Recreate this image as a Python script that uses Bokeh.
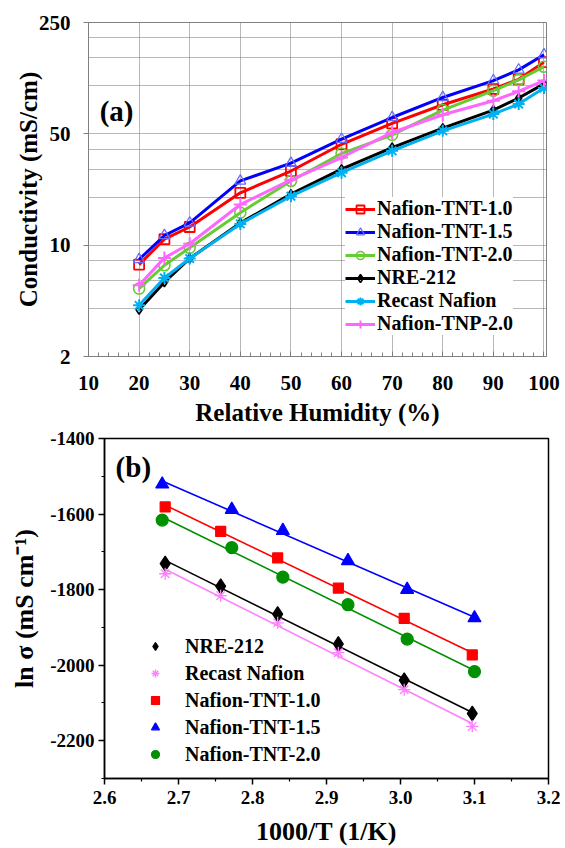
from bokeh.plotting import figure
from bokeh.models import FixedTicker, Label, Legend, LegendItem, NumeralTickFormatter
from bokeh.embed import file_html
from bokeh.resources import INLINE
import numpy as np

FONT = "Liberation Serif"

# ---------------- Panel (a) data ----------------
rh = [20, 25, 30, 40, 50, 60, 70, 80, 90, 95, 100]
tnt10 = [7.55, 10.9, 13.0, 21.3, 29.2, 43.0, 58.1, 76.1, 95.6, 110, 141]
tnt15 = [8.13, 11.5, 13.8, 25.3, 32.7, 46.3, 63.3, 84.6, 108, 126, 157]
tnt20 = [5.34, 7.48, 9.62, 16.0, 25.3, 37.6, 49.3, 70.5, 93.3, 109, 132]
nre = [3.93, 5.85, 8.25, 13.8, 20.9, 30.0, 41.0, 54.3, 70.5, 83.9, 103]
recast = [4.19, 6.22, 8.25, 13.6, 20.3, 28.5, 39.1, 52.2, 66.5, 76.9, 97]
tnp20 = [5.6, 8.32, 10.2, 18.0, 25.7, 35.5, 51.0, 65.9, 80.7, 92.4, 108]
rh_ticks = [10, 20, 30, 40, 50, 60, 70, 80, 90, 100]
rh_minor = [12, 14, 16, 18, 22, 24, 26, 28, 32, 34, 36, 38, 42, 44, 46, 48,
            52, 54, 56, 58, 62, 64, 66, 68, 72, 74, 76, 78, 82, 84, 86, 88,
            92, 94, 96, 98]
sigma_ticks = [2, 10, 50, 250]
sigma_minor = [4, 6, 8, 20, 30, 40, 100, 150, 200]

# ---------------- Panel (b) data ----------------
invT_1 = [2.682, 2.757, 2.834, 2.916, 3.005, 3.097]   # NRE-212, Recast, TNT-1.0
invT_2 = [2.678, 2.772, 2.841, 2.929, 3.009, 3.100]   # TNT-1.5, TNT-2.0
nre_b = [-1731, -1791, -1865, -1944, -2040, -2128]
recast_b = [-1758, -1816, -1888, -1967, -2065, -2162]
tnt10_b = [-1581, -1646, -1716, -1796, -1876, -1973]
tnt15_b = [-1521, -1588, -1644, -1724, -1800, -1875]
tnt20_b = [-1616, -1689, -1767, -1840, -1931, -2017]
invT_ticks = [2.6, 2.7, 2.8, 2.9, 3.0, 3.1, 3.2]
invT_minor = [2.65, 2.75, 2.85, 2.95, 3.05, 3.15]
ln_ticks = [-2200, -2000, -1800, -1600, -1400]
ln_minor = [-2300, -2100, -1900, -1700, -1500]

# ================= Figure (a) =================
p1 = figure(width=565, height=428, x_range=(10, 100.5), y_range=(2, 250),
            y_axis_type="log", output_backend="svg", toolbar_location=None,
            min_border_left=88, min_border_right=19, min_border_top=22,
            min_border_bottom=71)
p1.outline_line_color = "#808080"
p1.outline_line_width = 1

series_a = [
    ("Nafion-TNT-1.0", tnt10, "#FF0000", "square", 10, "#FF0000", 1.8),
    ("Nafion-TNT-1.5", tnt15, "#0000FF", "triangle", 11, "#6A6AFF", 1.2),
    ("Nafion-TNT-2.0", tnt20, "#66CC33", "circle", 11, "#66CC33", 1.6),
    ("NRE-212", nre, "#000000", "diamond", 9, "#000000", 1.6),
    ("Recast Nafion", recast, "#00B0F0", "asterisk", 12, "#00B0F0", 2.0),
    ("Nafion-TNP-2.0", tnp20, "#FF66FF", "cross", 13, "#FF66FF", 2.0),
]
items_a = []
for name, ys, col, mk, sz, mcol, mlw in series_a:
    ln = p1.line(rh, ys, line_color=col, line_width=3)
    sc = p1.scatter(rh, ys, marker=mk, size=sz, line_color=mcol,
                    fill_color=None, line_width=mlw)
    items_a.append(LegendItem(label=name, renderers=[ln, sc]))

leg_a = Legend(items=items_a, location=(257, 21), padding=3, margin=0,
               spacing=-2, glyph_width=30, glyph_height=20, label_height=20,
               label_standoff=2, background_fill_color="white",
               background_fill_alpha=1.0, border_line_color=None,
               label_text_font=FONT, label_text_font_style="bold",
               label_text_font_size="20px", label_text_color="black")
p1.add_layout(leg_a)

p1.xaxis.ticker = FixedTicker(ticks=rh_ticks, minor_ticks=rh_minor)
p1.yaxis.ticker = FixedTicker(ticks=sigma_ticks, minor_ticks=sigma_minor)
p1.ygrid.ticker = FixedTicker(ticks=sigma_ticks, minor_ticks=sigma_minor)
p1.xgrid.ticker = FixedTicker(ticks=rh_ticks)
p1.yaxis.formatter = NumeralTickFormatter(format="0")
p1.xaxis.formatter = NumeralTickFormatter(format="0")

for g in (p1.xgrid, p1.ygrid):
    g.grid_line_color = "#707070"
    g.grid_line_dash = "1 1"
    g.grid_line_width = 1
p1.ygrid.minor_grid_line_color = "#707070"
p1.ygrid.minor_grid_line_dash = "1 1"
p1.ygrid.minor_grid_line_width = 1

for ax in (p1.xaxis, p1.yaxis):
    ax.axis_line_color = "#808080"
    ax.major_tick_line_color = "#808080"
    ax.minor_tick_line_color = "#808080"
    ax.major_label_text_font = FONT
    ax.major_label_text_font_style = "bold"
    ax.major_label_text_font_size = "21px"
    ax.major_label_text_color = "black"
    ax.axis_label_text_font = FONT
    ax.axis_label_text_font_style = "bold"
    ax.axis_label_text_font_size = "25px"
    ax.axis_label_text_color = "black"
p1.xaxis.major_tick_in = 5
p1.xaxis.major_tick_out = 0
p1.xaxis.minor_tick_in = 4
p1.xaxis.minor_tick_out = 0
p1.xaxis.major_label_standoff = 19
p1.xaxis.axis_label_standoff = 6
p1.yaxis.major_tick_in = 0
p1.yaxis.major_tick_out = 5
p1.yaxis.minor_tick_line_color = None
p1.yaxis.major_label_standoff = 13
p1.yaxis.axis_label_standoff = -6
p1.xaxis.axis_label = "Relative Humidity (%)"
p1.yaxis.axis_label = "Conductivity (mS/cm)"

p1.add_layout(Label(x=12.2, y=70, text="(a)", text_font=FONT,
                    text_font_style="bold", text_font_size="29px",
                    text_baseline="middle", text_align="left",
                    text_color="black"))

# ================= Figure (b) =================
p2 = figure(width=565, height=420, x_range=(2.6, 3.2), y_range=(-2300, -1400),
            output_backend="svg", toolbar_location=None,
            min_border_left=104, min_border_right=17, min_border_top=10,
            min_border_bottom=69)
p2.outline_line_color = "black"
p2.outline_line_width = 1.5
p2.xgrid.grid_line_color = None
p2.ygrid.grid_line_color = None

series_b = [
    ("NRE-212", invT_1, nre_b, "#000000", "diamond", 15, "#000000"),
    ("Recast Nafion", invT_1, recast_b, "#FF80FF", "asterisk", 12, None),
    ("Nafion-TNT-1.0", invT_1, tnt10_b, "#FF0000", "square", 10, "#FF0000"),
    ("Nafion-TNT-1.5", invT_2, tnt15_b, "#0000FF", "triangle", 13, "#0000FF"),
    ("Nafion-TNT-2.0", invT_2, tnt20_b, "#009000", "circle", 12, "#009000"),
]
items_b = []
for name, xs, ys, col, mk, sz, fill in series_b:
    coef = np.polyfit(xs, ys, 1)
    fx = [min(xs), max(xs)]
    p2.line(fx, list(np.polyval(coef, fx)), line_color=col, line_width=1.6)
    sc = p2.scatter(xs, ys, marker=mk, size=sz, line_color=col,
                    fill_color=fill, line_width=1.2 if fill else 1.3)
    items_b.append(LegendItem(label=name, renderers=[sc]))

leg_b = Legend(items=items_b, location=(41, 12), padding=0, margin=0,
               spacing=3, glyph_width=20, glyph_height=24, label_height=24,
               label_standoff=20, background_fill_alpha=0,
               border_line_color=None, label_text_font=FONT,
               label_text_font_style="bold", label_text_font_size="20px",
               label_text_color="black")
p2.add_layout(leg_b)

p2.xaxis.ticker = FixedTicker(ticks=invT_ticks, minor_ticks=invT_minor)
p2.yaxis.ticker = FixedTicker(ticks=ln_ticks, minor_ticks=ln_minor)
p2.xaxis.formatter = NumeralTickFormatter(format="0.0")
p2.yaxis.formatter = NumeralTickFormatter(format="0")
for ax in (p2.xaxis, p2.yaxis):
    ax.axis_line_color = "black"
    ax.axis_line_width = 1.5
    ax.major_tick_line_color = "black"
    ax.major_tick_line_width = 1.5
    ax.minor_tick_line_color = "black"
    ax.minor_tick_line_width = 1.2
    ax.major_tick_in = 0
    ax.major_tick_out = 6
    ax.minor_tick_in = 0
    ax.minor_tick_out = 3
    ax.major_label_text_font = FONT
    ax.major_label_text_font_style = "bold"
    ax.major_label_text_font_size = "19px"
    ax.major_label_text_color = "black"
    ax.axis_label_text_font = FONT
    ax.axis_label_text_font_style = "bold"
    ax.axis_label_text_font_size = "26px"
    ax.axis_label_text_color = "black"
p2.xaxis.major_label_standoff = 6
p2.xaxis.axis_label_standoff = 10
p2.yaxis.major_label_standoff = 4
p2.yaxis.axis_label_standoff = 8
p2.xaxis.axis_label = "1000/T (1/K)"
p2.yaxis.axis_label = "ln σ (mS cm⁻¹)"

p2.add_layout(Label(x=2.615, y=-1476, text="(b)", text_font=FONT,
                    text_font_style="bold", text_font_size="29px",
                    text_baseline="middle", text_align="left",
                    text_color="black"))

# two independent roots, stacked, so each keeps its own frame position
open("out.html", "w").write(file_html([p1, p2], INLINE))
